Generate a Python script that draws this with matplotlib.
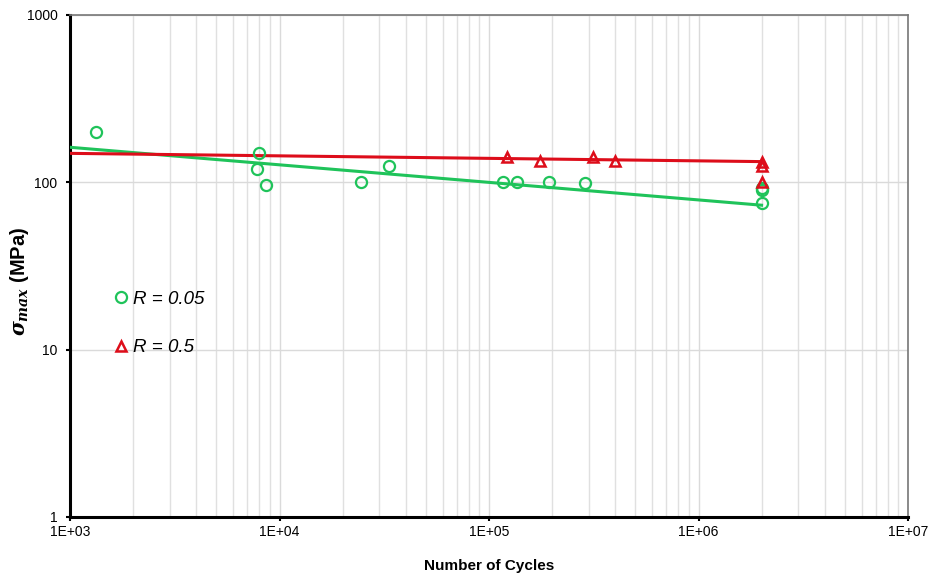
import matplotlib.pyplot as plt
import matplotlib.ticker as mticker
import numpy as np

plt.rcParams['font.family'] = ['Liberation Sans', 'DejaVu Sans']
plt.rcParams['mathtext.fontset'] = 'custom'
plt.rcParams['mathtext.it'] = 'DejaVu Serif:italic:bold'
plt.rcParams['mathtext.rm'] = 'Liberation Sans:bold'

# R = 0.05 test points
cycles_r005 = [1330, 7980, 7810, 8620, 24500, 33300, 116600, 136000, 193000, 287000,
               2000000, 2000000, 2000000]
stress_r005 = [200, 150, 120, 96, 100, 125, 100, 100, 100, 99, 92, 90, 75]

# R = 0.5 test points
cycles_r05 = [122000, 174500, 313000, 398000, 2000000, 2000000, 2000000]
stress_r05 = [141, 135, 142, 135, 132, 125, 100]

# power-law trend lines (end points)
trend_cycles = [1e3, 2e6]
trend_r005 = [162, 73]
trend_r05 = [149, 133]

green = '#1fc35a'
red = '#dd0d1a'

fig = plt.figure(figsize=(9.31, 5.76), dpi=100)
ax = fig.add_axes([70 / 931, 1 - 517 / 576, 838 / 931, 502 / 576])

ax.plot(trend_cycles, trend_r005, color=green, lw=2.2, zorder=3)
ax.plot(trend_cycles, trend_r05, color=red, lw=2.2, zorder=3)
ax.plot(cycles_r005, stress_r005, 'o', ls='none', mfc='none', mec=green, mew=1.6,
        ms=8, zorder=4, label='R = 0.05')
ax.plot(cycles_r05, stress_r05, '^', ls='none', mfc='none', mec=red, mew=1.8,
        ms=7, zorder=4, label='R = 0.5')

ax.set_xscale('log')
ax.set_yscale('log')
ax.set_xlim(1e3, 1e7)
ax.set_ylim(1, 1000)

ax.xaxis.set_major_locator(mticker.LogLocator(base=10, numticks=10))
ax.xaxis.set_minor_locator(mticker.LogLocator(base=10, subs=np.arange(2, 10), numticks=50))
ax.xaxis.set_major_formatter(mticker.FuncFormatter(lambda v, p: '1E+%02d' % round(np.log10(v))))
ax.xaxis.set_minor_formatter(mticker.NullFormatter())
ax.yaxis.set_major_locator(mticker.LogLocator(base=10, numticks=10))
ax.yaxis.set_minor_locator(mticker.NullLocator())
ax.yaxis.set_major_formatter(mticker.FuncFormatter(lambda v, p: '%d' % round(v)))

ax.grid(True, which='major', axis='both', color='#dadada', lw=1.0, zorder=0)
ax.grid(True, which='minor', axis='x', color='#e0e0e0', lw=1.0, zorder=0)
ax.set_axisbelow(True)

for s in ['left', 'bottom']:
    ax.spines[s].set_linewidth(2.2)
    ax.spines[s].set_color('black')
for s in ['top', 'right']:
    ax.spines[s].set_linewidth(1.2)
    ax.spines[s].set_color('#777777')

ax.tick_params(axis='both', which='major', length=3, width=1.5, labelsize=10,
               colors='black')
ax.tick_params(axis='y', which='major', pad=6)
ax.tick_params(axis='x', which='major', pad=3)
ax.tick_params(axis='x', which='minor', length=0)

ax.set_xlabel('Number of Cycles', fontsize=11, fontweight='bold', labelpad=14)
ax.set_ylabel(r'$\sigma_{max}$ (MPa)', fontsize=14.5, fontweight='bold')
ax.yaxis.set_label_coords(-0.046, 0.47)

leg = ax.legend(loc='upper left', bbox_to_anchor=(0.026, 0.484), frameon=False,
                fontsize=13.5, handletextpad=0.0, labelspacing=1.65, handlelength=1.3)
for t in leg.get_texts():
    t.set_fontstyle('italic')

fig.savefig('out.png', dpi=100)
